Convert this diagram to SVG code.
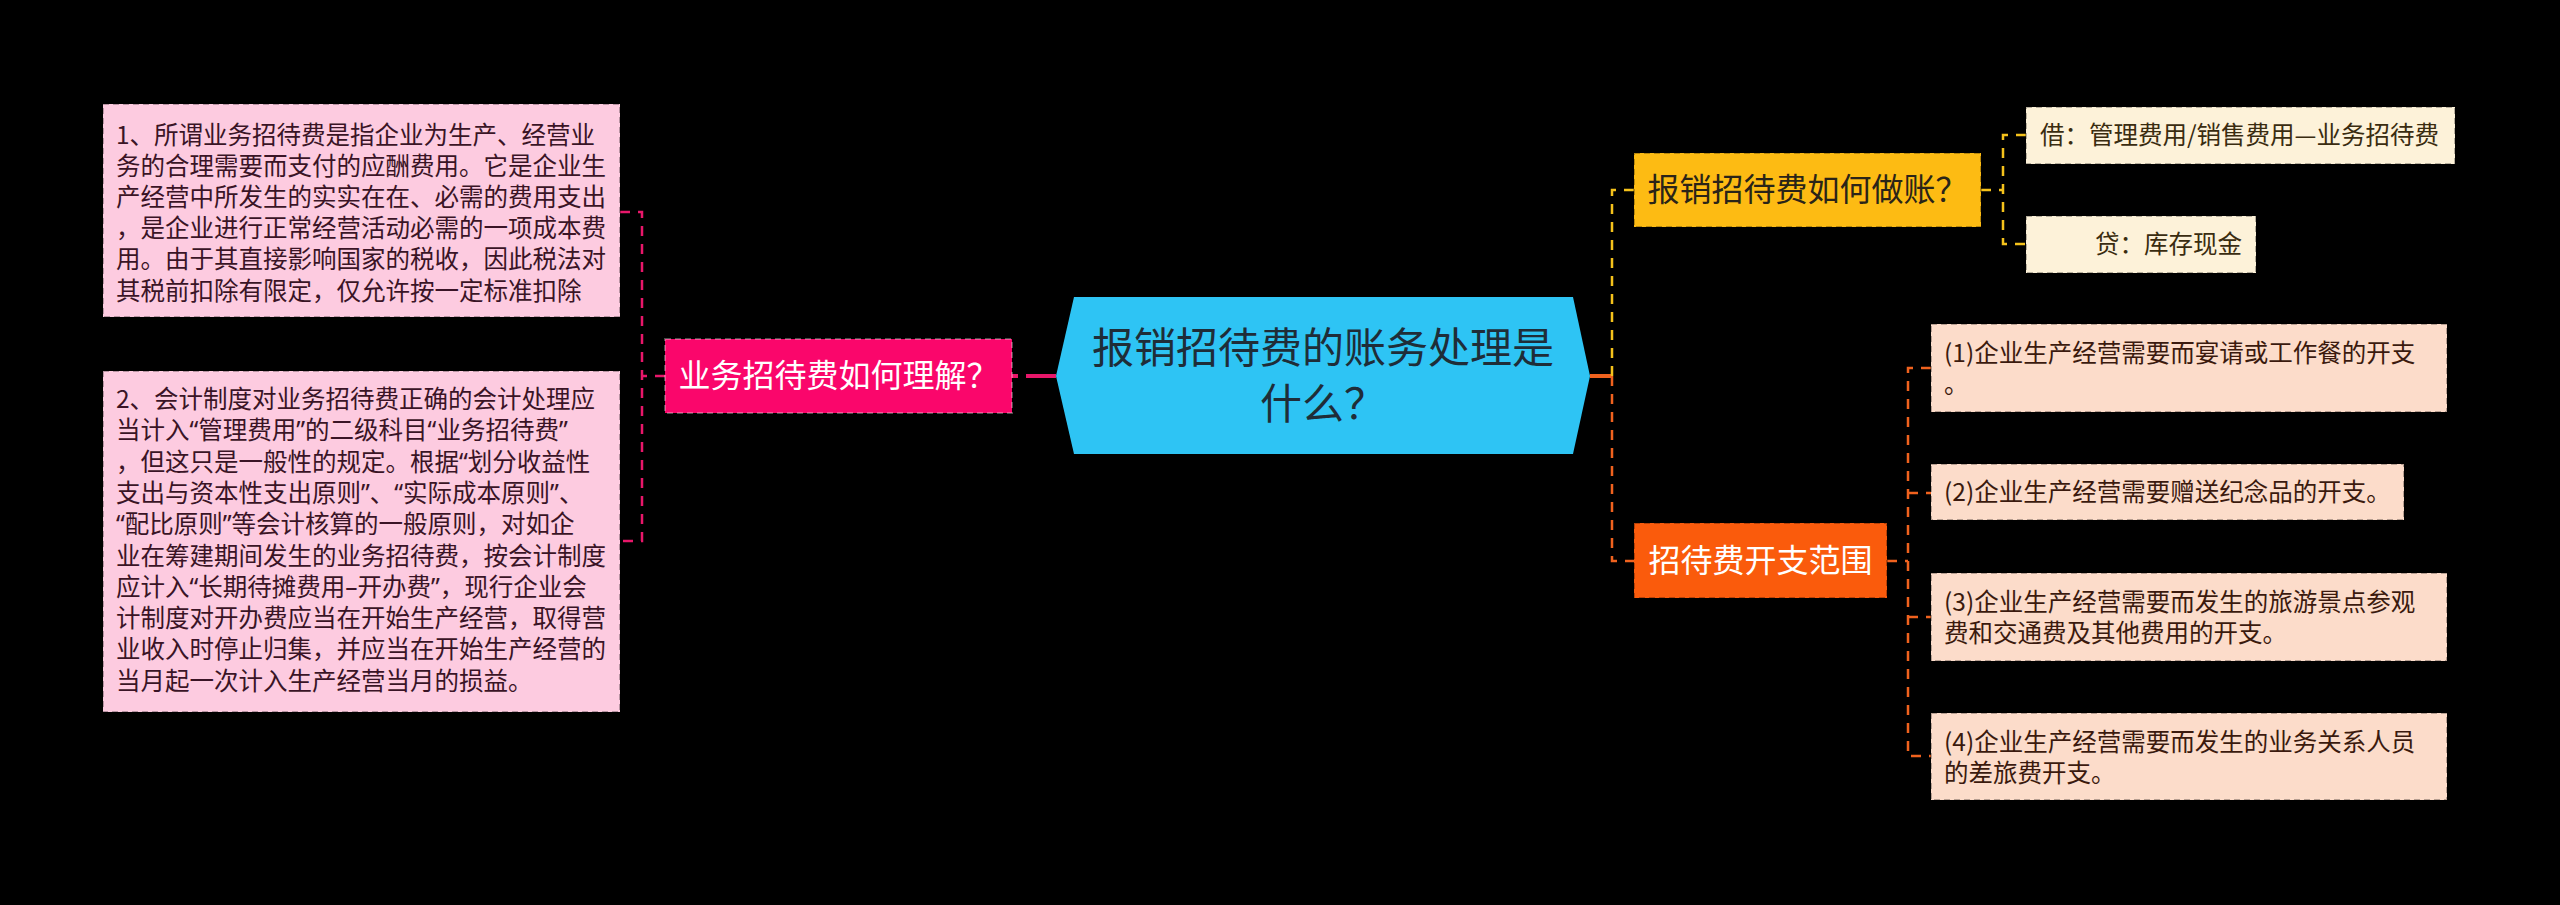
<svg xmlns="http://www.w3.org/2000/svg" width="2560" height="905" viewBox="0 0 2560 905">
<style>
text{font-family:"Noto Sans CJK SC","Noto Sans",sans-serif;}
.q{font-family:"Noto Sans","Noto Sans CJK SC",sans-serif;}
.box{stroke:rgba(0,0,0,0.28);stroke-width:2;stroke-dasharray:6 4;}
.t24{font-size:24.5px;}
.t32{font-size:32px;text-anchor:middle;}
.con{fill:none;stroke-width:2.5;stroke-dasharray:10 8;}
.pk{stroke:#e8176a;}
.yl{stroke:#f5c21b;}
.or{stroke:#f0621e;}
</style>
<rect x="0" y="0" width="2560" height="905" fill="#000"/>
<g id="connectors">
<path class="con pk" d="M665 376 H642 M620 212 H642 V541 H620"/>
<path d="M1012 376 H1056" fill="none" stroke="#e8176a" stroke-width="4" stroke-dasharray="6 8 30 0"/>
<path d="M1590 376 H1612" fill="none" stroke="#f0621e" stroke-width="4"/>
<path class="con yl" d="M1612 376 V190 H1634"/>
<path class="con or" d="M1612 376 V561 H1634"/>
<path class="con yl" d="M1981 190 H2003 M2026 135 H2003 V244 H2026"/>
<path class="con or" d="M1887 561 H1908 M1931 368 H1908 V756 H1931 M1908 493 H1931 M1908 617 H1931"/>
</g>
<g id="root">
<polygon points="1056,376 1074,297 1573,297 1590,376 1573,454 1074,454" fill="#2ec4f4"/>
<text x="1323" y="363" font-size="42" text-anchor="middle" fill="#1f2d38">报销招待费的账务处理是</text>
<text x="1323" y="419" font-size="42" text-anchor="middle" fill="#1f2d38">什么？</text>
</g>
<g id="n-understand">
<rect class="box" x="665" y="339" width="347" height="74" fill="#fa066b" style="stroke:rgba(255,255,255,0.3)"/>
<text class="t32" x="838.5" y="387" fill="#fff">业务招待费如何理解？</text>
</g>
<g id="n-box1">
<rect class="box" x="103" y="104" width="517" height="213" fill="#fdcbe0"/>
<text class="t24" fill="#3a1426">
<tspan x="116" y="143.5">1、所谓业务招待费是指企业为生产、经营业</tspan>
<tspan x="116" y="174.7">务的合理需要而支付的应酬费用。它是企业生</tspan>
<tspan x="116" y="205.9">产经营中所发生的实实在在、必需的费用支出</tspan>
<tspan x="116" y="237.1">，是企业进行正常经营活动必需的一项成本费</tspan>
<tspan x="116" y="268.3">用。由于其直接影响国家的税收，因此税法对</tspan>
<tspan x="116" y="299.5">其税前扣除有限定，仅允许按一定标准扣除</tspan>
</text>
</g>
<g id="n-box2">
<rect class="box" x="103" y="371" width="517" height="341" fill="#fdcbe0"/>
<text class="t24" fill="#3a1426">
<tspan x="116" y="408">2、会计制度对业务招待费正确的会计处理应</tspan>
<tspan x="116" y="439.3">当计入<tspan class="q">“</tspan>管理费用<tspan class="q">”</tspan>的二级科目<tspan class="q">“</tspan>业务招待费<tspan class="q">”</tspan></tspan>
<tspan x="116" y="470.6">，但这只是一般性的规定。根据<tspan class="q">“</tspan>划分收益性</tspan>
<tspan x="116" y="501.9">支出与资本性支出原则<tspan class="q">”</tspan>、<tspan class="q">“</tspan>实际成本原则<tspan class="q">”</tspan>、</tspan>
<tspan x="116" y="533.2"><tspan class="q">“</tspan>配比原则<tspan class="q">”</tspan>等会计核算的一般原则，对如企</tspan>
<tspan x="116" y="564.5">业在筹建期间发生的业务招待费，按会计制度</tspan>
<tspan x="116" y="595.8">应计入<tspan class="q">“</tspan>长期待摊费用<tspan class="q">–</tspan>开办费<tspan class="q">”</tspan>，现行企业会</tspan>
<tspan x="116" y="627.1">计制度对开办费应当在开始生产经营，取得营</tspan>
<tspan x="116" y="658.4">业收入时停止归集，并应当在开始生产经营的</tspan>
<tspan x="116" y="689.7">当月起一次计入生产经营当月的损益。</tspan>
</text>
</g>
<g id="n-account">
<rect class="box" x="1634" y="153" width="347" height="74" fill="#fdbb13"/>
<text class="t32" x="1807.5" y="201" fill="#2a2418">报销招待费如何做账？</text>
</g>
<g id="n-debit">
<rect class="box" x="2026" y="107" width="429" height="57" fill="#fdf2d9"/>
<text class="t24" x="2040" y="144" fill="#3a2c10">借：管理费用/销售费用—业务招待费</text>
</g>
<g id="n-credit">
<rect class="box" x="2026" y="216" width="230" height="57" fill="#fdf2d9"/>
<text class="t24" x="2095" y="253" fill="#3a2c10">贷：库存现金</text>
</g>
<g id="n-scope">
<rect class="box" x="1634" y="523" width="253" height="75" fill="#fa5b0c"/>
<text class="t32" x="1760.5" y="572" fill="#fff">招待费开支范围</text>
</g>
<g id="n-s1">
<rect class="box" x="1931" y="324" width="516" height="88" fill="#fcdcca"/>
<text class="t24" fill="#3b1a0e"><tspan x="1944" y="362">(1)企业生产经营需要而宴请或工作餐的开支</tspan><tspan x="1944" y="393">。</tspan></text>
</g>
<g id="n-s2">
<rect class="box" x="1931" y="464" width="473" height="56" fill="#fcdcca"/>
<text class="t24" x="1944" y="501" fill="#3b1a0e">(2)企业生产经营需要赠送纪念品的开支。</text>
</g>
<g id="n-s3">
<rect class="box" x="1931" y="573" width="516" height="88" fill="#fcdcca"/>
<text class="t24" fill="#3b1a0e"><tspan x="1944" y="611">(3)企业生产经营需要而发生的旅游景点参观</tspan><tspan x="1944" y="642">费和交通费及其他费用的开支。</tspan></text>
</g>
<g id="n-s4">
<rect class="box" x="1931" y="713" width="516" height="87" fill="#fcdcca"/>
<text class="t24" fill="#3b1a0e"><tspan x="1944" y="751">(4)企业生产经营需要而发生的业务关系人员</tspan><tspan x="1944" y="782">的差旅费开支。</tspan></text>
</g>
</svg>
